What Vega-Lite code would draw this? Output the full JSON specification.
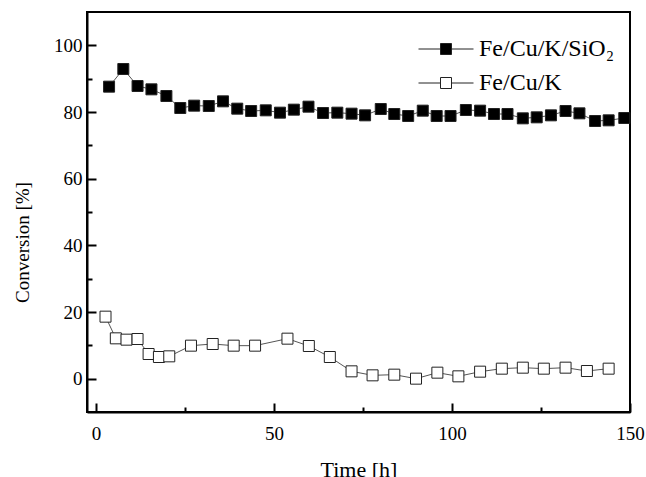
{
  "$schema": "https://vega.github.io/schema/vega-lite/v6.json",
  "width": 543,
  "height": 400,
  "autosize": {"type": "none"},
  "padding": {"left": 87, "top": 12, "right": 16, "bottom": 65},
  "background": "white",
  "config": {
    "view": {"stroke": "black", "strokeWidth": 2},
    "font": "Liberation Serif"
  },
  "data": {
    "values": [
      {"t": 3.7, "c": 87.6, "s": "Fe/Cu/K/SiO₂"},
      {"t": 7.7, "c": 92.9, "s": "Fe/Cu/K/SiO₂"},
      {"t": 11.7, "c": 87.8, "s": "Fe/Cu/K/SiO₂"},
      {"t": 15.6, "c": 86.8, "s": "Fe/Cu/K/SiO₂"},
      {"t": 19.8, "c": 84.8, "s": "Fe/Cu/K/SiO₂"},
      {"t": 23.7, "c": 81.2, "s": "Fe/Cu/K/SiO₂"},
      {"t": 27.6, "c": 81.9, "s": "Fe/Cu/K/SiO₂"},
      {"t": 31.7, "c": 81.8, "s": "Fe/Cu/K/SiO₂"},
      {"t": 35.7, "c": 83.2, "s": "Fe/Cu/K/SiO₂"},
      {"t": 39.7, "c": 81.0, "s": "Fe/Cu/K/SiO₂"},
      {"t": 43.6, "c": 80.3, "s": "Fe/Cu/K/SiO₂"},
      {"t": 47.7, "c": 80.5, "s": "Fe/Cu/K/SiO₂"},
      {"t": 51.7, "c": 79.8, "s": "Fe/Cu/K/SiO₂"},
      {"t": 55.6, "c": 80.7, "s": "Fe/Cu/K/SiO₂"},
      {"t": 59.7, "c": 81.6, "s": "Fe/Cu/K/SiO₂"},
      {"t": 63.8, "c": 79.7, "s": "Fe/Cu/K/SiO₂"},
      {"t": 67.8, "c": 79.8, "s": "Fe/Cu/K/SiO₂"},
      {"t": 71.8, "c": 79.5, "s": "Fe/Cu/K/SiO₂"},
      {"t": 75.6, "c": 79.0, "s": "Fe/Cu/K/SiO₂"},
      {"t": 80.0, "c": 80.9, "s": "Fe/Cu/K/SiO₂"},
      {"t": 83.8, "c": 79.4, "s": "Fe/Cu/K/SiO₂"},
      {"t": 87.7, "c": 78.8, "s": "Fe/Cu/K/SiO₂"},
      {"t": 91.8, "c": 80.4, "s": "Fe/Cu/K/SiO₂"},
      {"t": 95.7, "c": 78.8, "s": "Fe/Cu/K/SiO₂"},
      {"t": 99.6, "c": 78.8, "s": "Fe/Cu/K/SiO₂"},
      {"t": 103.9, "c": 80.6, "s": "Fe/Cu/K/SiO₂"},
      {"t": 107.9, "c": 80.4, "s": "Fe/Cu/K/SiO₂"},
      {"t": 111.8, "c": 79.4, "s": "Fe/Cu/K/SiO₂"},
      {"t": 115.6, "c": 79.4, "s": "Fe/Cu/K/SiO₂"},
      {"t": 119.9, "c": 78.1, "s": "Fe/Cu/K/SiO₂"},
      {"t": 123.8, "c": 78.4, "s": "Fe/Cu/K/SiO₂"},
      {"t": 127.8, "c": 79.0, "s": "Fe/Cu/K/SiO₂"},
      {"t": 131.9, "c": 80.3, "s": "Fe/Cu/K/SiO₂"},
      {"t": 135.8, "c": 79.6, "s": "Fe/Cu/K/SiO₂"},
      {"t": 140.2, "c": 77.3, "s": "Fe/Cu/K/SiO₂"},
      {"t": 144.0, "c": 77.5, "s": "Fe/Cu/K/SiO₂"},
      {"t": 148.4, "c": 78.2, "s": "Fe/Cu/K/SiO₂"},
      {"t": 2.7, "c": 18.6, "s": "Fe/Cu/K"},
      {"t": 5.6, "c": 12.1, "s": "Fe/Cu/K"},
      {"t": 8.6, "c": 11.7, "s": "Fe/Cu/K"},
      {"t": 11.7, "c": 11.9, "s": "Fe/Cu/K"},
      {"t": 14.8, "c": 7.4, "s": "Fe/Cu/K"},
      {"t": 17.7, "c": 6.5, "s": "Fe/Cu/K"},
      {"t": 20.6, "c": 6.7, "s": "Fe/Cu/K"},
      {"t": 26.7, "c": 9.9, "s": "Fe/Cu/K"},
      {"t": 32.8, "c": 10.4, "s": "Fe/Cu/K"},
      {"t": 38.7, "c": 9.9, "s": "Fe/Cu/K"},
      {"t": 44.7, "c": 9.9, "s": "Fe/Cu/K"},
      {"t": 53.8, "c": 12.0, "s": "Fe/Cu/K"},
      {"t": 59.8, "c": 9.8, "s": "Fe/Cu/K"},
      {"t": 65.7, "c": 6.5, "s": "Fe/Cu/K"},
      {"t": 71.8, "c": 2.2, "s": "Fe/Cu/K"},
      {"t": 77.7, "c": 1.0, "s": "Fe/Cu/K"},
      {"t": 83.8, "c": 1.2, "s": "Fe/Cu/K"},
      {"t": 89.9, "c": 0.0, "s": "Fe/Cu/K"},
      {"t": 95.9, "c": 1.8, "s": "Fe/Cu/K"},
      {"t": 101.8, "c": 0.7, "s": "Fe/Cu/K"},
      {"t": 107.9, "c": 2.1, "s": "Fe/Cu/K"},
      {"t": 114.0, "c": 3.0, "s": "Fe/Cu/K"},
      {"t": 119.9, "c": 3.3, "s": "Fe/Cu/K"},
      {"t": 125.8, "c": 3.0, "s": "Fe/Cu/K"},
      {"t": 131.9, "c": 3.3, "s": "Fe/Cu/K"},
      {"t": 137.9, "c": 2.3, "s": "Fe/Cu/K"},
      {"t": 144.0, "c": 3.0, "s": "Fe/Cu/K"}
    ]
  },
  "encoding": {
    "x": {
      "field": "t",
      "type": "quantitative",
      "scale": {"domain": [-2.5, 150], "nice": false, "zero": false},
      "axis": {
        "title": "Time [h]",
        "values": [0, 25, 50, 75, 100, 125, 150],
        "labelExpr": "datum.value % 50 === 0 ? datum.label : ''",
        "tickSize": {"condition": {"test": "datum.value % 50 === 0", "value": -9}, "value": -5},
        "grid": false,
        "domainColor": "black",
        "domainWidth": 2,
        "tickColor": "black",
        "tickWidth": 2,
        "labelFont": "Liberation Serif",
        "labelFontSize": 19,
        "labelColor": "black",
        "titleFont": "Liberation Serif",
        "titleFontSize": 22,
        "titleFontWeight": "normal",
        "titleColor": "black",
        "labelPadding": 21,
        "titlePadding": 16,
        "labelFlush": false
      }
    },
    "y": {
      "field": "c",
      "type": "quantitative",
      "scale": {"domain": [-10, 110], "nice": false, "zero": false},
      "axis": {
        "title": "Conversion [%]",
        "values": [0, 10, 20, 30, 40, 50, 60, 70, 80, 90, 100],
        "labelExpr": "datum.value % 20 === 0 ? datum.label : ''",
        "tickSize": {"condition": {"test": "datum.value % 20 === 0", "value": -9}, "value": -5},
        "grid": false,
        "domainColor": "black",
        "domainWidth": 2,
        "tickColor": "black",
        "tickWidth": 2,
        "labelFont": "Liberation Serif",
        "labelFontSize": 19,
        "labelColor": "black",
        "titleFont": "Liberation Serif",
        "titleFontSize": 19,
        "titleFontWeight": "normal",
        "titleColor": "black",
        "labelPadding": 14,
        "titleX": -55,
        "titleY": 230
      }
    }
  },
  "layer": [
    {
      "mark": {"type": "line", "color": "#555555", "strokeWidth": 1},
      "encoding": {"detail": {"field": "s"}, "order": {"field": "t"}}
    },
    {
      "mark": {"type": "point", "shape": "square", "size": 121, "stroke": "#222222", "strokeWidth": 1, "opacity": 1, "fillOpacity": 1},
      "encoding": {
        "fill": {
          "field": "s",
          "type": "nominal",
          "scale": {"domain": ["Fe/Cu/K/SiO₂", "Fe/Cu/K"], "range": ["black", "white"]},
          "legend": {
            "orient": "none",
            "legendX": 347,
            "legendY": 25,
            "title": null,
            "padding": 0,
            "symbolType": "M-5,0H-1M1,0H5M-1,-1H1V1H-1Z",
            "symbolSize": 121,
            "symbolStrokeColor": "#222222",
            "symbolStrokeWidth": 1,
            "symbolOpacity": 1,
            "labelOffset": 21,
            "labelFont": "Liberation Serif",
            "labelFontSize": 24,
            "labelColor": "black",
            "rowPadding": 10
          }
        }
      }
    }
  ]
}
